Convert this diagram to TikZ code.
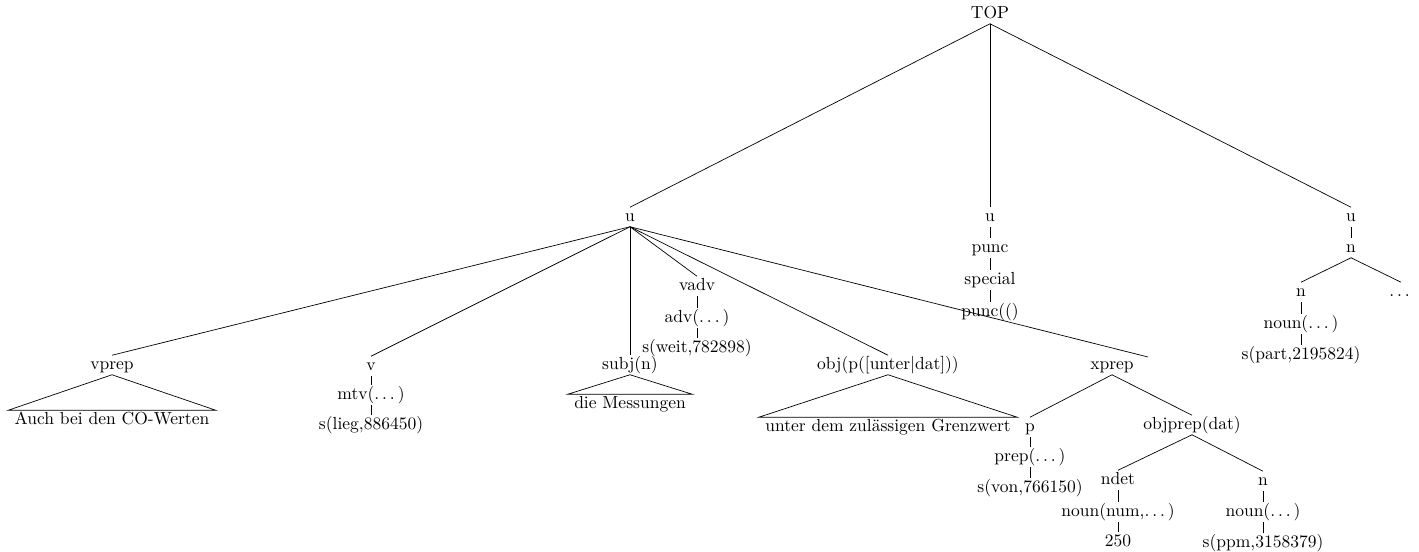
\documentclass[tikz,border=0pt]{standalone}
\newcommand{\mydots}{.\kern1.67pt.\kern1.67pt.\kern1.67pt}
\begin{document}
\begin{tikzpicture}[x=0.5714pt,y=-0.5714pt,
  lbl/.style={inner sep=1.5pt, text height=1.5ex, text depth=.3ex},
  leaf/.style={lbl, inner xsep=3.5pt},
  edge/.style={draw, line width=0.4pt}]
\useasboundingbox (0,0) rectangle (1419,552);
% top level
\node[lbl] (top) at (990,14) {TOP};
\node[lbl] (u1) at (630,217) {u};
\node[lbl] (u2) at (990,217) {u};
\node[lbl] (u3) at (1351,217) {u};
% middle chain
\node[lbl] (punc1) at (990,248) {punc};
\node[lbl] (special) at (990,280) {special};
\node[lbl] (punc2) at (990,312) {punc(()};
% right subtree
\node[lbl] (n1) at (1351,248) {n};
\node[lbl] (n2) at (1301,292) {n};
\node[lbl] (dots) at (1401,292) {\mydots};
\node[lbl] (noun1) at (1301,324) {noun(\mydots)};
\node[lbl] (spart) at (1301,355) {s(part,2195824)};
% left subtree
\node[lbl] (vprep) at (112,365) {vprep};
\node[leaf] (leaf1) at (112,420) {Auch bei den CO-Werten};
\node[lbl] (v) at (371,366) {v};
\node[lbl] (mtv) at (371,395) {mtv(\mydots)};
\node[lbl] (slieg) at (371,425) {s(lieg,886450)};
\node[lbl] (subj) at (630,365) {subj(n)};
\node[leaf] (leaf2) at (630,404) {die Messungen};
\node[lbl] (vadv) at (697,286) {vadv};
\node[lbl] (adv) at (697,318) {adv(\mydots)};
\node[lbl] (sweit) at (697,348) {s(weit,782898)};
\node[lbl] (obj) at (888,365) {obj(p([unter$|$dat]))};
\node[leaf] (leaf3) at (888,427) {unter dem zulässigen Grenzwert};
\node[lbl] (xprep) at (1112,365) {xprep};
\coordinate (xend) at (1148,357);
\node[lbl] (p) at (1030,427) {p};
\node[lbl] (prep) at (1030,457) {prep(\mydots)};
\node[lbl] (svon) at (1030,488) {s(von,766150)};
\node[lbl] (objprep) at (1192,425) {objprep(dat)};
\node[lbl] (ndet) at (1118,480) {ndet};
\node[lbl] (nounnum) at (1118,512) {noun(num,\mydots)};
\node[lbl] (n250) at (1118,542) {250};
\node[lbl] (n3) at (1263,481) {n};
\node[lbl] (noun3) at (1263,512) {noun(\mydots)};
\node[lbl] (sppm) at (1263,543) {s(ppm,3158379)};
% edges
\path[edge] (top.south) -- (u1.north);
\path[edge] (top.south) -- (u2.north);
\path[edge] (top.south) -- (u3.north);
\path[edge] (u2) -- (punc1);
\path[edge] (punc1) -- (special);
\path[edge] (special) -- (punc2);
\path[edge] (u3) -- (n1);
\path[edge] (n1.south) -- (n2.north);
\path[edge] (n1.south) -- (dots.north);
\path[edge] (n2) -- (noun1);
\path[edge] (noun1) -- (spart);
\path[edge] (u1.south) -- (vprep.north);
\path[edge] (u1.south) -- (v.north);
\path[edge] (u1.south) -- (subj.north);
\path[edge] (u1.south) -- (vadv.north);
\path[edge] (u1.south) -- (obj.north);
\path[edge] (u1.south) -- (xend);
\path[edge] (vprep.south) -- (leaf1.north west) -- (leaf1.north east) -- cycle;
\path[edge] (v) -- (mtv);
\path[edge] (mtv) -- (slieg);
\path[edge] (subj.south) -- (leaf2.north west) -- (leaf2.north east) -- cycle;
\path[edge] (vadv) -- (adv);
\path[edge] (adv) -- (sweit);
\path[edge] (obj.south) -- (leaf3.north west) -- (leaf3.north east) -- cycle;
\path[edge] (xprep.south) -- (p.north);
\path[edge] (xprep.south) -- (objprep.north);
\path[edge] (p) -- (prep);
\path[edge] (prep) -- (svon);
\path[edge] (objprep.south) -- (ndet.north);
\path[edge] (objprep.south) -- (n3.north);
\path[edge] (ndet) -- (nounnum);
\path[edge] (nounnum) -- (n250);
\path[edge] (n3) -- (noun3);
\path[edge] (noun3) -- (sppm);
\end{tikzpicture}
\end{document}
